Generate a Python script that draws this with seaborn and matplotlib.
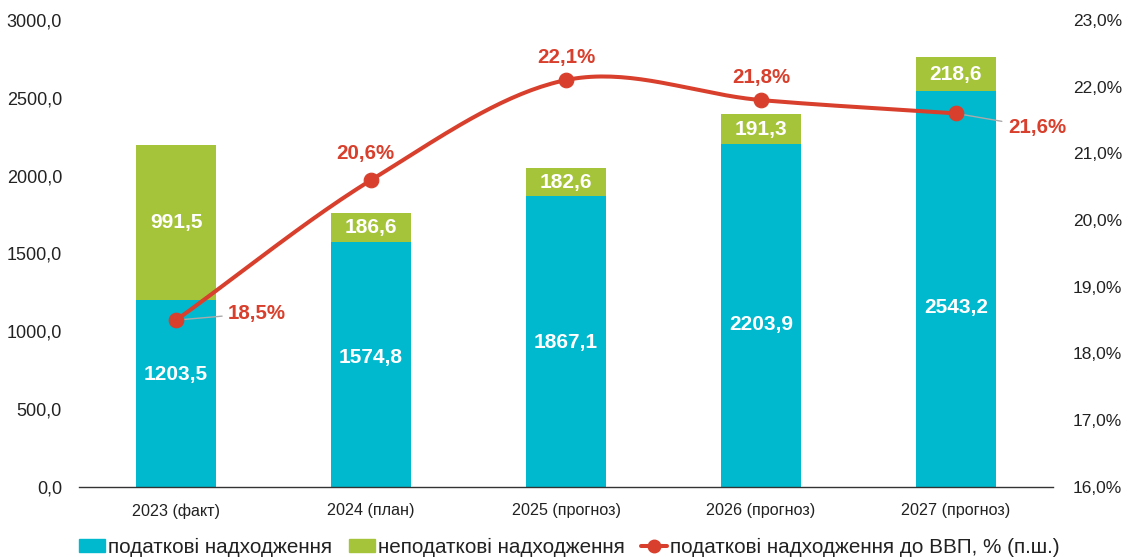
import numpy as np
import matplotlib.pyplot as plt
import matplotlib.patches as mpatches
from matplotlib.lines import Line2D
from matplotlib.ticker import FuncFormatter, MultipleLocator
import seaborn as sns

# Data
years = ["2023 (факт)", "2024 (план)", "2025 (прогноз)", "2026 (прогноз)", "2027 (прогноз)"]
tax = [1203.5, 1574.8, 1867.1, 2203.9, 2543.2]
nontax = [991.5, 186.6, 182.6, 191.3, 218.6]
tax_gdp = [18.5, 20.6, 22.1, 21.8, 21.6]

# where the white labels inside the teal bars sit (as in the original)
tax_label_y = [720, 830, 925, 1045, 1150]

TEAL = "#00B9CE"
GREEN = "#A5C43A"
RED = "#D83F2C"

sns.set_theme(style="white")
plt.rcParams["font.family"] = ["Liberation Sans", "DejaVu Sans"]

fig = plt.figure(figsize=(11.32, 5.57), dpi=100)
ax = fig.add_axes([0.0695, 0.126, 0.861, 0.838])

totals = [a + b for a, b in zip(tax, nontax)]
x = np.arange(len(years))
sns.barplot(x=years, y=totals, color=GREEN, width=0.41, saturation=1, linewidth=0, ax=ax)
sns.barplot(x=years, y=tax, color=TEAL, width=0.41, saturation=1, linewidth=0, ax=ax)

for i in x:
    ax.text(i, tax_label_y[i], f"{tax[i]:.1f}".replace(".", ","), ha="center", va="center",
            color="white", fontsize=15, fontweight="bold")
    ax.text(i, tax[i] + nontax[i] / 2, f"{nontax[i]:.1f}".replace(".", ","), ha="center",
            va="center", color="white", fontsize=15, fontweight="bold")

ax.set_ylim(0, 3000)
ax.set_xlim(-0.5, 4.5)
ax.yaxis.set_major_locator(MultipleLocator(500))
ax.yaxis.set_major_formatter(FuncFormatter(lambda v, p: f"{v:.1f}".replace(".", ",")))
ax.tick_params(axis="both", length=0, colors="#222222")
ax.tick_params(axis="y", labelsize=13, pad=12)
ax.tick_params(axis="x", labelsize=11.6, pad=12)
ax.set_xlabel("")
ax.set_ylabel("")
for s in ["top", "right", "left"]:
    ax.spines[s].set_visible(False)
ax.spines["bottom"].set_color("#333333")
ax.spines["bottom"].set_linewidth(1)

# secondary axis with smoothed line
ax2 = ax.twinx()
ax2.set_ylim(16, 23)
ax2.yaxis.set_major_locator(MultipleLocator(1))
ax2.yaxis.set_major_formatter(FuncFormatter(lambda v, p: f"{v:.1f}%".replace(".", ",")))
ax2.tick_params(axis="y", length=0, labelsize=12.5, colors="#222222", pad=14)
for s in ["top", "right", "left", "bottom"]:
    ax2.spines[s].set_visible(False)

# Catmull-Rom smoothing (rendering only)
pts = np.column_stack([x, tax_gdp]).astype(float)
ext = np.vstack([pts[0] - (pts[1] - pts[0]), pts, pts[-1] + (pts[-1] - pts[-2])])
curve = []
for k in range(1, len(ext) - 2):
    p0, p1, p2, p3 = ext[k - 1], ext[k], ext[k + 1], ext[k + 2]
    m1, m2 = (p2 - p0) / 2, (p3 - p1) / 2
    t = np.linspace(0, 1, 40)[:, None]
    h00 = 2 * t**3 - 3 * t**2 + 1
    h10 = t**3 - 2 * t**2 + t
    h01 = -2 * t**3 + 3 * t**2
    h11 = t**3 - t**2
    curve.append(h00 * p1 + h10 * m1 + h01 * p2 + h11 * m2)
curve = np.vstack(curve)
ax2.plot(curve[:, 0], curve[:, 1], color=RED, lw=2.9, solid_capstyle="round", zorder=3)
sns.scatterplot(x=x, y=tax_gdp, color=RED, s=110, edgecolor=RED, ax=ax2, zorder=4)

# percent labels (pixel offsets from the point)
offsets = [(52, 7, "left", True), (-6, 27, "center", False), (0, 23, "center", False),
           (0, 23, "center", False), (52, -14, "left", True)]
for i, (dx, dy, ha, leader) in enumerate(offsets):
    lbl = f"{tax_gdp[i]:.1f}%".replace(".", ",")
    arrow = dict(arrowstyle="-", color="#AAAAAA", lw=1, shrinkA=2, shrinkB=2) if leader else None
    ax2.annotate(lbl, (x[i], tax_gdp[i]), xytext=(dx * 0.72, dy * 0.72), textcoords="offset points",
                 ha=ha, va="center", color=RED, fontsize=14.8, fontweight="bold",
                 arrowprops=arrow)

handles = [
    mpatches.Patch(color=TEAL, label="податкові надходження"),
    mpatches.Patch(color=GREEN, label="неподаткові надходження"),
    Line2D([0], [0], color=RED, lw=2.9, marker="o", markersize=9, label="податкові надходження до ВВП, % (п.ш.)"),
]
fig.legend(handles=handles, loc="center", bbox_to_anchor=(0.503, 0.018), ncol=3, frameon=False,
           fontsize=14.9, handlelength=1.25, handleheight=0.6, handletextpad=0.15,
           columnspacing=0.8, labelcolor="#222222", borderpad=0.2)

fig.savefig("out.png", dpi=100)
